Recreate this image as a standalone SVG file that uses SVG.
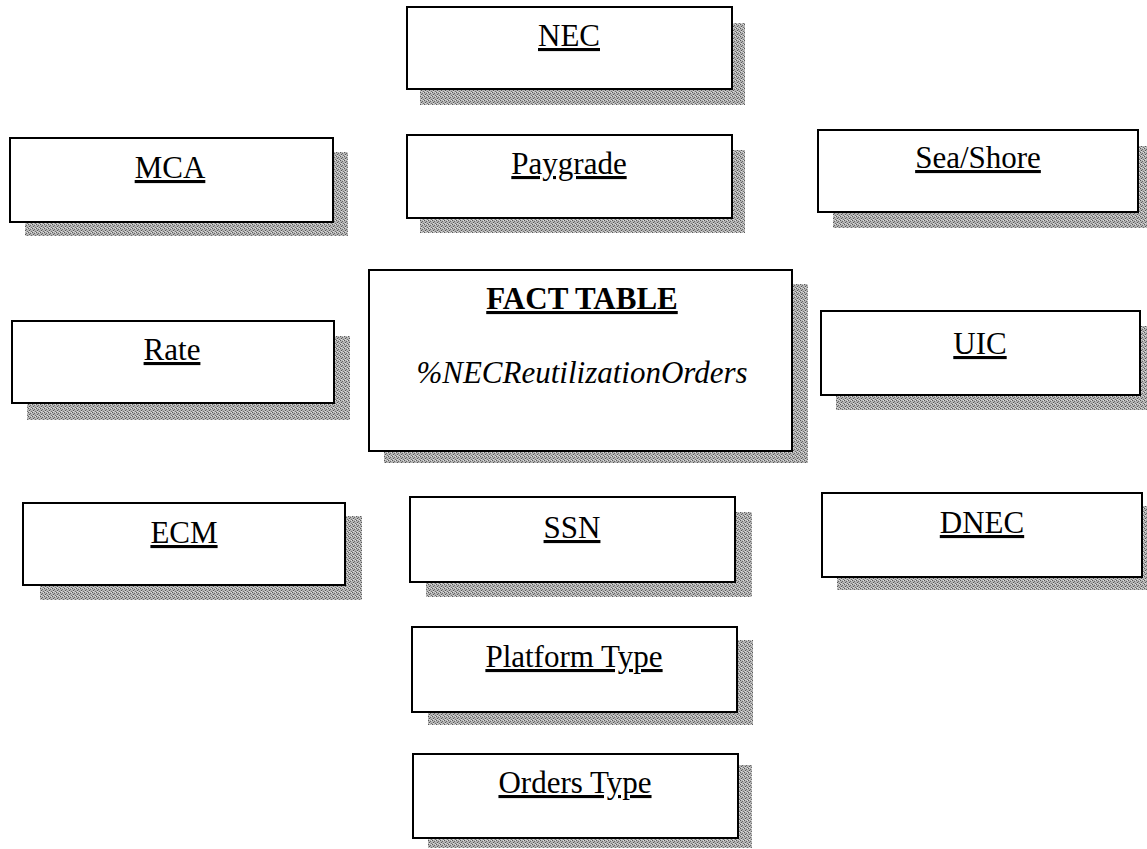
<svg xmlns="http://www.w3.org/2000/svg" width="1147" height="849" viewBox="0 0 1147 849">
<defs>
<pattern id="dither" width="4" height="4" patternUnits="userSpaceOnUse">
<rect width="4" height="4" fill="#b4b4b4"/>
<rect x="0" y="0" width="1" height="1" fill="#5a5a5a"/>
<rect x="2" y="1" width="1" height="1" fill="#6a6a6a"/>
<rect x="1" y="2" width="1" height="1" fill="#555"/>
<rect x="3" y="3" width="1" height="1" fill="#707070"/>
<rect x="3" y="0" width="1" height="1" fill="#e0e0e0"/>
<rect x="1" y="3" width="1" height="1" fill="#dcdcdc"/>
</pattern>
</defs>
<style>
.sh{fill:url(#dither);stroke:none}
.bx{fill:#fff;stroke:#000;stroke-width:2}
.lb{font-family:"Liberation Serif","Times New Roman",serif;font-size:31px;fill:#000;text-anchor:middle;text-decoration:underline}
.ft{font-family:"Liberation Serif","Times New Roman",serif;font-size:31px;font-weight:bold;fill:#000;text-anchor:middle;text-decoration:underline}
.it{font-family:"Liberation Serif","Times New Roman",serif;font-size:31px;font-style:italic;fill:#000;text-anchor:middle}
</style>
<rect width="1147" height="849" fill="#fff"/>
<g id="connectors"></g>
<g id="nec"><rect class="sh" x="420" y="23" width="325" height="82"/><rect class="bx" x="407" y="7" width="325" height="82"/><text class="lb" x="569" y="46">NEC</text></g>
<g id="paygrade"><rect class="sh" x="420" y="150" width="325" height="83"/><rect class="bx" x="407" y="135" width="325" height="83"/><text class="lb" x="569" y="174">Paygrade</text></g>
<g id="mca"><rect class="sh" x="25" y="152" width="323" height="84"/><rect class="bx" x="10" y="138" width="323" height="84"/><text class="lb" x="170" y="178">MCA</text></g>
<g id="seashore"><rect class="sh" x="833" y="146" width="320" height="82"/><rect class="bx" x="818" y="130" width="320" height="82"/><text class="lb" x="978" y="168">Sea/Shore</text></g>
<g id="rate"><rect class="sh" x="27" y="336" width="323" height="84"/><rect class="bx" x="12" y="321" width="322" height="82"/><text class="lb" x="172" y="360">Rate</text></g>
<g id="facttable"><rect class="sh" x="384" y="284" width="424" height="179"/><rect class="bx" x="369" y="270" width="423" height="181"/><text class="ft" x="582" y="309">FACT TABLE</text><text class="it" x="582" y="383">%NECReutilizationOrders</text></g>
<g id="uic"><rect class="sh" x="836" y="326" width="320" height="84"/><rect class="bx" x="821" y="311" width="319" height="84"/><text class="lb" x="980" y="354">UIC</text></g>
<g id="ecm"><rect class="sh" x="40" y="516" width="322" height="84"/><rect class="bx" x="23" y="503" width="322" height="82"/><text class="lb" x="184" y="543">ECM</text></g>
<g id="ssn"><rect class="sh" x="426" y="512" width="326" height="85"/><rect class="bx" x="410" y="497" width="325" height="85"/><text class="lb" x="572" y="538">SSN</text></g>
<g id="dnec"><rect class="sh" x="837" y="506" width="320" height="84"/><rect class="bx" x="822" y="493" width="320" height="84"/><text class="lb" x="982" y="533">DNEC</text></g>
<g id="platformtype"><rect class="sh" x="428" y="640" width="325" height="85"/><rect class="bx" x="412" y="627" width="325" height="85"/><text class="lb" x="574" y="667">Platform Type</text></g>
<g id="orderstype"><rect class="sh" x="428" y="765" width="324" height="83"/><rect class="bx" x="413" y="754" width="325" height="84"/><text class="lb" x="575" y="793">Orders Type</text></g>
</svg>
